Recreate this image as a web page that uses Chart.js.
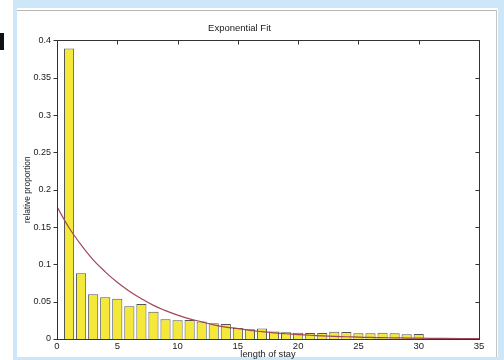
<!DOCTYPE html>
<html><head><meta charset="utf-8">
<script src="https://cdn.jsdelivr.net/npm/chart.js@4/dist/chart.umd.min.js"></script>
<style>
html,body{margin:0;padding:0;background:#fff;width:504px;height:360px;overflow:hidden;position:relative}
#frame{position:absolute;left:13px;top:0;width:491px;height:360px;background:#cde7f8}
#panel{position:absolute;left:17px;top:8px;width:481px;height:349px;background:#fff}
#line{position:absolute;left:17px;top:10px;width:480px;height:347px;border-top:1px solid #b8b8b8;border-right:1px solid #c4c4c4;box-sizing:border-box}
#mark{position:absolute;left:0;top:33px;width:4px;height:17px;background:#111}
canvas{position:absolute;left:0;top:0}
</style></head>
<body>
<div id="frame"></div><div id="panel"></div><div id="line"></div><div id="mark"></div>
<canvas id="c" width="504" height="360"></canvas>
<script>
// ---- data ----
const stayLengths = [1,2,3,4,5,6,7,8,9,10,11,12,13,14,15,16,17,18,19,20,21,22,23,24,25,26,27,28,29,30];
const proportions = [0.389,0.088,0.060,0.056,0.054,0.044,0.047,0.0365,0.0265,0.025,0.0255,0.0235,0.021,0.020,0.0148,0.013,0.014,0.010,0.009,0.0085,0.008,0.008,0.0098,0.0094,0.0076,0.0076,0.0084,0.0076,0.0063,0.0067];
const fitX = [0,1,2,3,4,5,6,7,8,9,10,11,12,13,14,15,16,17,18,19,20,21,22,23,24,25,26,27,28,29,30,32,35];
const fitY = [0.177,0.149,0.126,0.106,0.090,0.076,0.064,0.054,0.045,0.038,0.032,0.027,0.023,0.019,0.016,0.014,0.0116,0.0098,0.0083,0.007,0.0059,0.005,0.0042,0.0035,0.003,0.0025,0.0021,0.0018,0.0015,0.0013,0.0011,0.0008,0.0005];
const xTickValues = [0,5,10,15,20,25,30,35];
const yTickValues = [0,0.05,0.1,0.15,0.2,0.25,0.3,0.35,0.4];
const yTickLabels = ['0','0.05','0.1','0.15','0.2','0.25','0.3','0.35','0.4'];
const chartTitle = 'Exponential Fit';
const xTitle = 'length of stay';
const yTitle = 'relative proportion';

const FONT = '"Liberation Sans", Arial, Helvetica, sans-serif';
const AX = '#333';
const TXT = '#1a1a1a';

const boxPlugin = {
  id: 'matlabBox',
  beforeDatasetsDraw(chart) {
    const {ctx, chartArea: a, scales: {x}} = chart;
    ctx.save();
    ctx.strokeStyle = AX; ctx.lineWidth = 1;
    ctx.beginPath();
    xTickValues.forEach(v => {
      const px = Math.round(x.getPixelForValue(v)) + 0.5;
      ctx.moveTo(px, a.bottom); ctx.lineTo(px, a.bottom - 4);
    });
    ctx.stroke();
    ctx.restore();
  },
  afterDatasetsDraw(chart) {
    const {ctx, chartArea: a, scales: {x, y}} = chart;
    const L = Math.round(a.left) + 0.5, R = Math.round(a.right) + 0.5;
    const T = Math.round(a.top) + 0.5, B = Math.round(a.bottom) + 0.5;
    ctx.save();
    ctx.strokeStyle = AX; ctx.lineWidth = 1;
    ctx.strokeRect(L, T, R - L, B - T);
    ctx.beginPath();
    xTickValues.forEach(v => {
      const px = Math.round(x.getPixelForValue(v)) + 0.5;
      ctx.moveTo(px, T); ctx.lineTo(px, T + 4);
    });
    yTickValues.forEach(v => {
      const py = Math.round(y.getPixelForValue(v)) + 0.5;
      ctx.moveTo(R, py); ctx.lineTo(R - 4, py);
      ctx.moveTo(L, py); ctx.lineTo(L - 4, py);
    });
    ctx.stroke();
    ctx.restore();
  }
};

new Chart(document.getElementById('c'), {
  type: 'bar',
  data: {
    datasets: [
      {
        type: 'line',
        order: 0,
        data: fitX.map((v, i) => ({x: v, y: fitY[i]})),
        borderColor: '#a0485a',
        borderWidth: 1.2,
        pointRadius: 0,
        tension: 0.4,
        fill: false
      },
      {
        type: 'bar',
        order: 1,
        data: stayLengths.map((v, i) => ({x: v, y: proportions[i]})),
        backgroundColor: '#f4e93b',
        borderColor: '#555',
        borderWidth: 1,
        categoryPercentage: 1,
        barPercentage: 0.84
      }
    ]
  },
  options: {
    responsive: false,
    devicePixelRatio: 1,
    animation: false,
    layout: {padding: {left: 0, right: 25, top: 0, bottom: 0}},
    plugins: {
      legend: {display: false},
      tooltip: {enabled: false},
      title: {
        display: true, text: chartTitle, color: TXT,
        font: {family: FONT, size: 9.5, weight: 'normal', lineHeight: 1.2},
        padding: {top: 23, bottom: 6}
      }
    },
    scales: {
      x: {
        type: 'linear', min: 0, max: 35, offset: false,
        grid: {display: false, drawTicks: false},
        border: {display: false},
        afterBuildTicks: s => { s.ticks = xTickValues.map(v => ({value: v})); },
        ticks: {
          color: TXT, font: {family: FONT, size: 9.5}, padding: 2,
          maxRotation: 0, autoSkip: false,
          callback: v => String(v)
        },
        title: {
          display: true, text: xTitle, color: TXT,
          font: {family: FONT, size: 9.3, lineHeight: 1.1},
          padding: {top: 0, bottom: 0}
        },
        afterFit: s => { s.height = 21; }
      },
      y: {
        type: 'linear', min: 0, max: 0.4,
        grid: {display: false, drawTicks: false},
        border: {display: false},
        afterBuildTicks: s => { s.ticks = yTickValues.map(v => ({value: v})); },
        ticks: {
          color: TXT, font: {family: FONT, size: 9}, padding: 6,
          autoSkip: false,
          callback: (v, i) => yTickLabels[i]
        },
        title: {
          display: true, text: yTitle, color: TXT,
          font: {family: FONT, size: 8.3, lineHeight: 1.2},
          padding: {top: 23, bottom: 0}
        },
        afterFit: s => { s.width = 57; }
      }
    }
  },
  plugins: [boxPlugin]
});
</script>
</body></html>
